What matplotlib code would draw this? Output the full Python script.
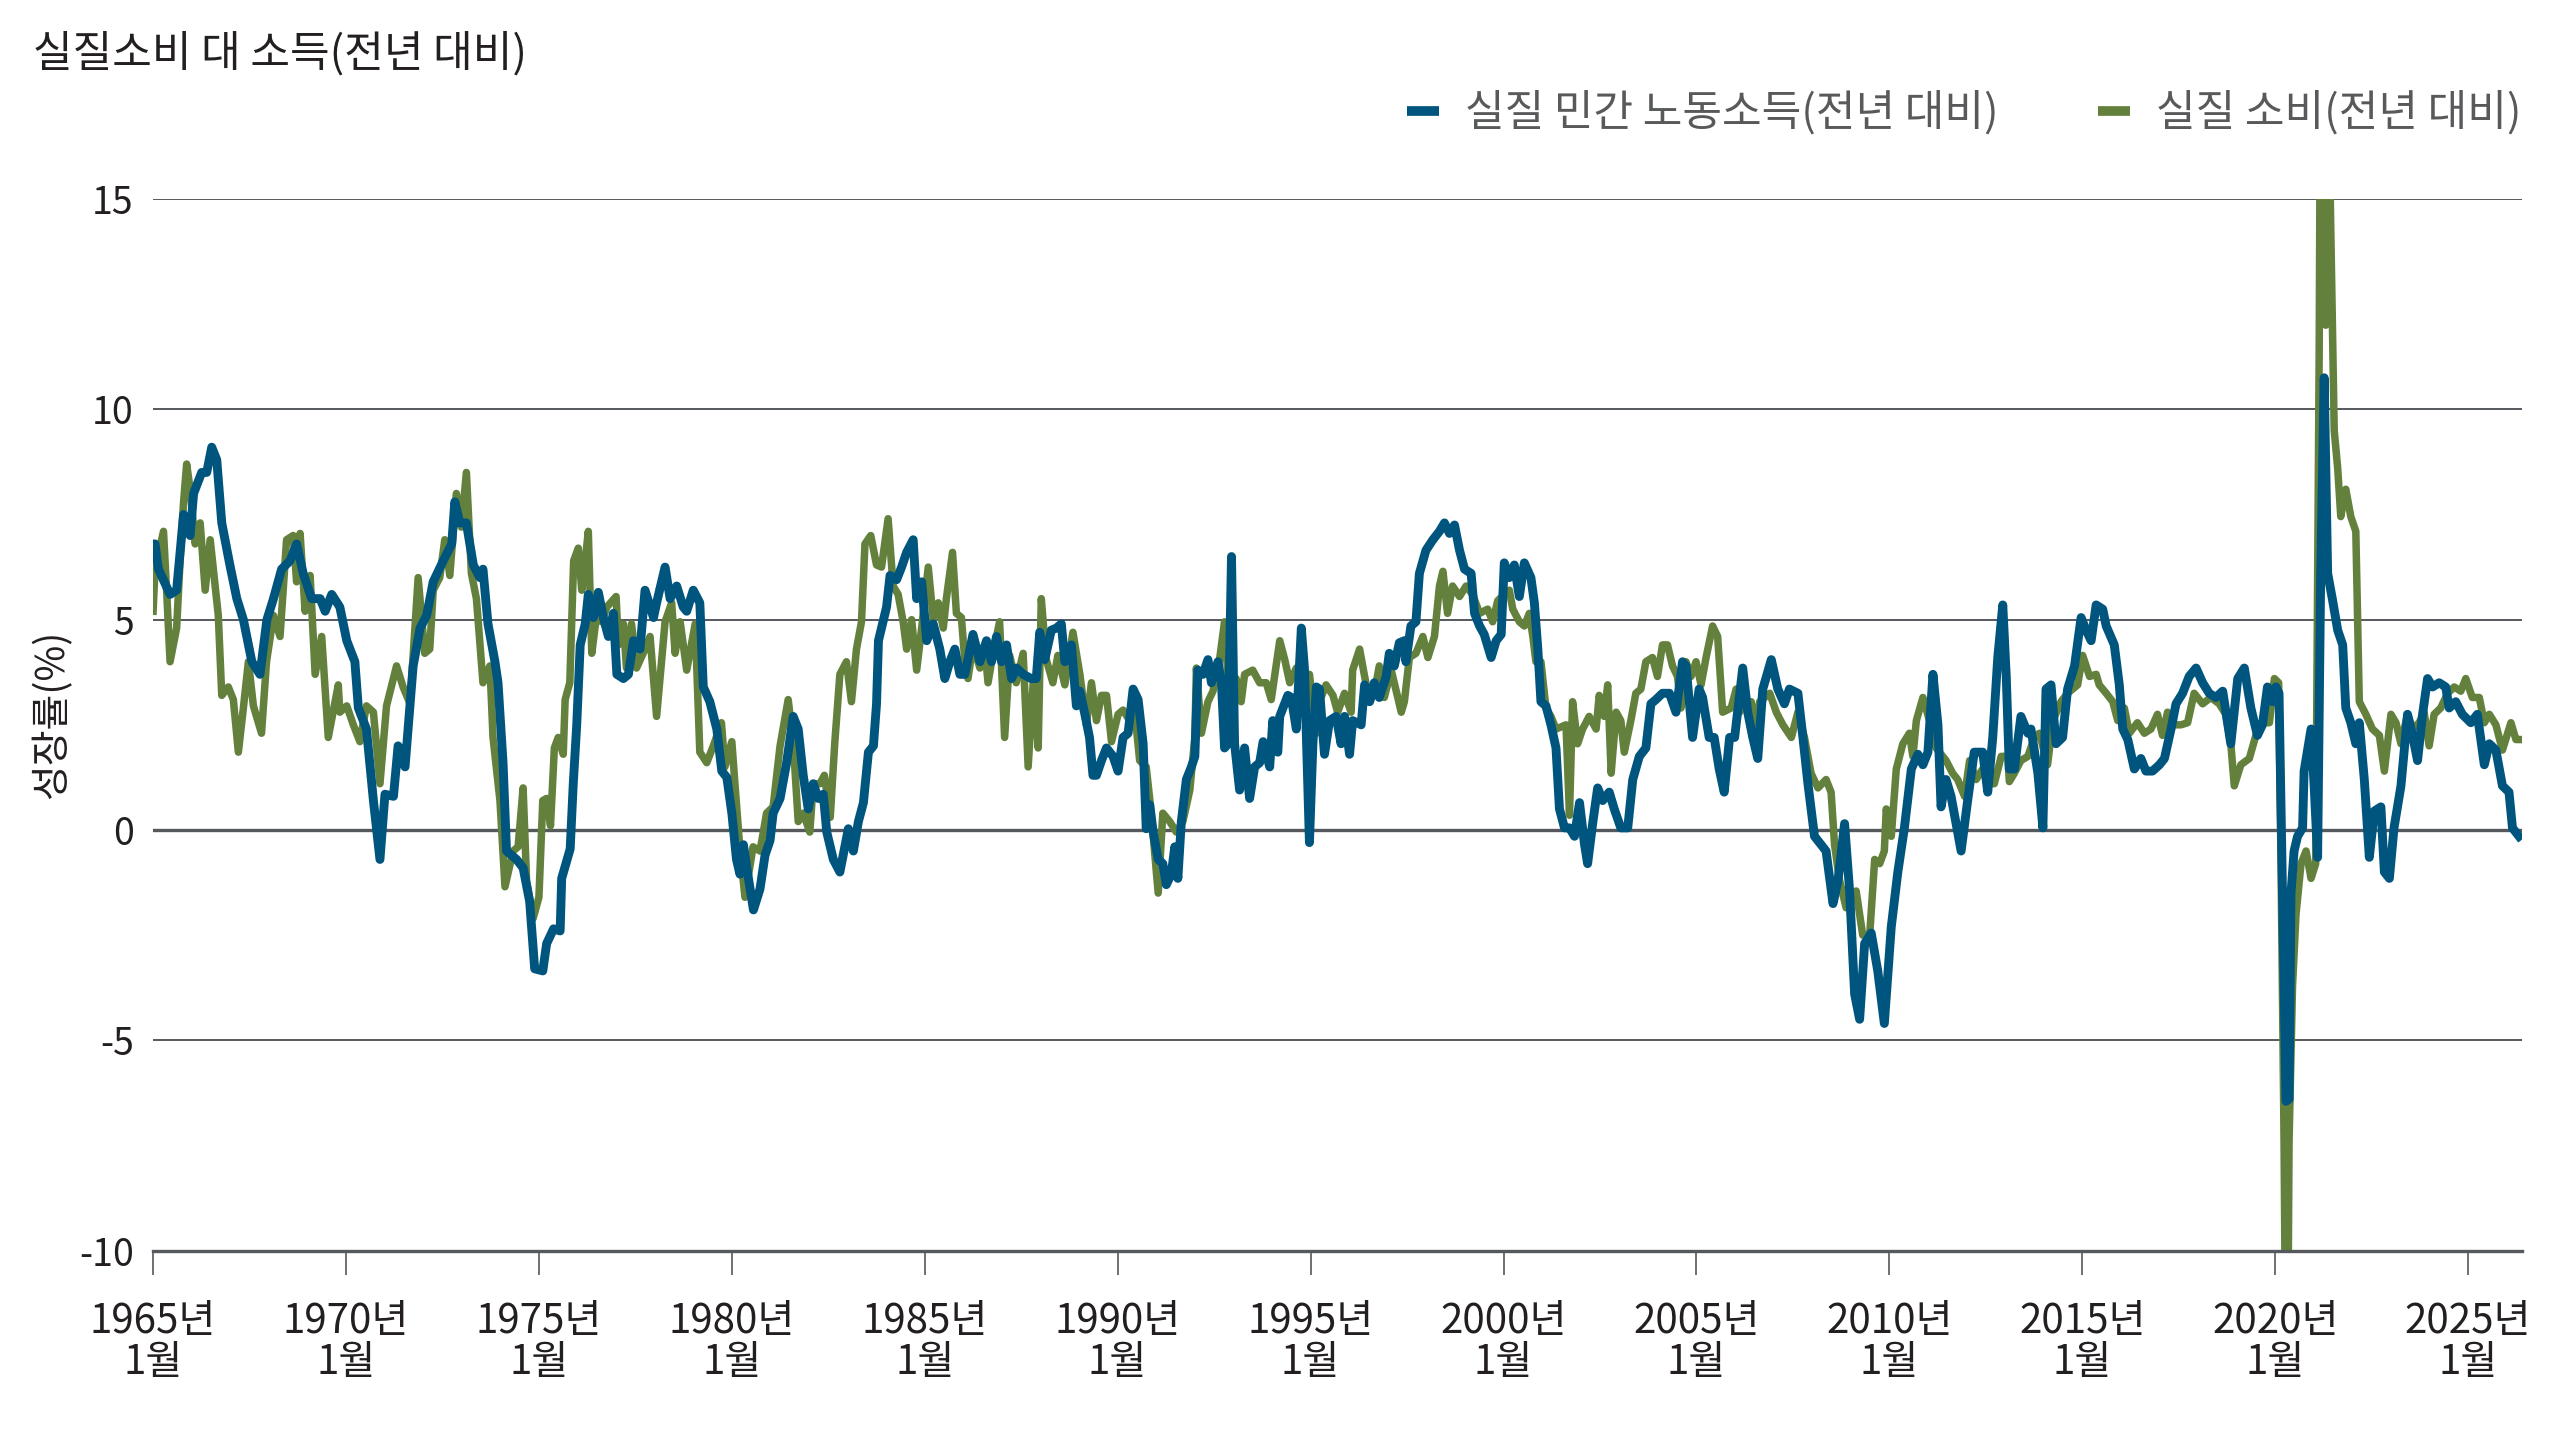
import matplotlib
matplotlib.use("Agg")
import matplotlib.pyplot as plt

plt.rcParams['font.family'] = ['Noto Sans CJK KR', 'DejaVu Sans']
plt.rcParams['font.weight'] = 'light'

# 실질 민간 노동소득(전년 대비) (decimal year, %)
inc_years = [1965.0, 1965.05, 1965.14, 1965.44, 1965.61, 1965.79, 1965.96, 1966.05, 1966.26, 1966.39,
             1966.52, 1966.65, 1966.78, 1966.99, 1967.17, 1967.34, 1967.56, 1967.77, 1967.95, 1968.12,
             1968.33, 1968.55, 1968.72, 1968.89, 1969.11, 1969.33, 1969.46, 1969.63, 1969.84, 1970.02,
             1970.23, 1970.32, 1970.53, 1970.71, 1970.88, 1971.01, 1971.23, 1971.35, 1971.53, 1971.74,
             1971.92, 1972.09, 1972.26, 1972.52, 1972.74, 1972.82, 1972.95, 1973.12, 1973.3, 1973.47,
             1973.55, 1973.68, 1973.86, 1973.94, 1974.07, 1974.16, 1974.42, 1974.59, 1974.76, 1974.89,
             1975.1, 1975.2, 1975.38, 1975.55, 1975.59, 1975.81, 1975.89, 1975.98, 1976.07, 1976.2,
             1976.28, 1976.41, 1976.54, 1976.67, 1976.8, 1976.93, 1977.02, 1977.19, 1977.32, 1977.45,
             1977.62, 1977.75, 1977.97, 1978.05, 1978.27, 1978.4, 1978.57, 1978.74, 1978.83, 1979.0,
             1979.17, 1979.26, 1979.43, 1979.61, 1979.74, 1979.87, 1980.0, 1980.12, 1980.21, 1980.3,
             1980.43, 1980.56, 1980.73, 1980.86, 1980.99, 1981.07, 1981.25, 1981.42, 1981.59, 1981.72,
             1981.85, 1981.98, 1982.11, 1982.24, 1982.37, 1982.46, 1982.63, 1982.8, 1983.02, 1983.15,
             1983.28, 1983.41, 1983.54, 1983.67, 1983.75, 1983.8, 1984.01, 1984.1, 1984.27, 1984.4,
             1984.53, 1984.7, 1984.79, 1984.92, 1985.05, 1985.22, 1985.39, 1985.52, 1985.65, 1985.78,
             1985.91, 1986.04, 1986.25, 1986.43, 1986.6, 1986.73, 1986.86, 1986.99, 1987.12, 1987.25,
             1987.38, 1987.55, 1987.76, 1987.89, 1987.98, 1988.11, 1988.28, 1988.41, 1988.54, 1988.63,
             1988.8, 1988.93, 1989.02, 1989.15, 1989.27, 1989.36, 1989.45, 1989.58, 1989.71, 1989.88,
             1990.01, 1990.14, 1990.27, 1990.4, 1990.53, 1990.66, 1990.74, 1990.83, 1990.92, 1991.05,
             1991.17, 1991.26, 1991.39, 1991.48, 1991.56, 1991.65, 1991.78, 1991.91, 1992.0, 1992.08,
             1992.21, 1992.34, 1992.43, 1992.6, 1992.69, 1992.77, 1992.86, 1992.95, 1993.03, 1993.16,
             1993.29, 1993.42, 1993.55, 1993.68, 1993.77, 1993.94, 1994.02, 1994.15, 1994.2, 1994.41,
             1994.5, 1994.63, 1994.76, 1994.84, 1994.97, 1995.06, 1995.15, 1995.23, 1995.36, 1995.49,
             1995.66, 1995.79, 1995.88, 1996.01, 1996.09, 1996.31, 1996.4, 1996.53, 1996.65, 1996.78,
             1996.96, 1997.04, 1997.17, 1997.3, 1997.43, 1997.47, 1997.6, 1997.73, 1997.82, 1997.99,
             1998.17, 1998.34, 1998.47, 1998.6, 1998.73, 1998.86, 1998.99, 1999.16, 1999.25, 1999.38,
             1999.5, 1999.68, 1999.81, 1999.94, 2000.02, 2000.15, 2000.28, 2000.41, 2000.54, 2000.71,
             2000.8, 2000.89, 2000.97, 2001.1, 2001.23, 2001.36, 2001.45, 2001.58, 2001.71, 2001.84,
             2001.97, 2002.1, 2002.18, 2002.31, 2002.44, 2002.57, 2002.74, 2002.87, 2003.04, 2003.22,
             2003.35, 2003.52, 2003.69, 2003.82, 2003.95, 2004.12, 2004.3, 2004.47, 2004.64, 2004.73,
             2004.9, 2005.07, 2005.16, 2005.33, 2005.46, 2005.59, 2005.72, 2005.86, 2005.99, 2006.2,
             2006.33, 2006.46, 2006.59, 2006.72, 2006.94, 2007.11, 2007.28, 2007.41, 2007.63, 2007.76,
             2007.89, 2008.06, 2008.23, 2008.36, 2008.54, 2008.67, 2008.84, 2008.97, 2009.1, 2009.23,
             2009.36, 2009.53, 2009.7, 2009.87, 2010.05, 2010.22, 2010.39, 2010.57, 2010.74, 2010.87,
             2011.0, 2011.13, 2011.26, 2011.34, 2011.47, 2011.6, 2011.73, 2011.86, 2012.03, 2012.2,
             2012.42, 2012.55, 2012.68, 2012.81, 2012.94, 2013.03, 2013.11, 2013.24, 2013.41, 2013.59,
             2013.67, 2013.85, 2013.98, 2014.06, 2014.19, 2014.32, 2014.49, 2014.62, 2014.8, 2014.97,
             2015.1, 2015.23, 2015.36, 2015.53, 2015.62, 2015.83, 2015.96, 2016.05, 2016.18, 2016.35,
             2016.52, 2016.65, 2016.82, 2017.0, 2017.13, 2017.3, 2017.43, 2017.6, 2017.77, 2017.95,
             2018.12, 2018.29, 2018.46, 2018.64, 2018.85, 2019.03, 2019.2, 2019.37, 2019.54, 2019.67,
             2019.8, 2019.93, 2020.02, 2020.1, 2020.19, 2020.28, 2020.36, 2020.41, 2020.49, 2020.58,
             2020.71, 2020.75, 2020.93, 2021.01, 2021.1, 2021.18, 2021.27, 2021.36, 2021.49, 2021.62,
             2021.75, 2021.83, 2021.96, 2022.09, 2022.18, 2022.31, 2022.44, 2022.57, 2022.74, 2022.83,
             2022.96, 2023.08, 2023.26, 2023.43, 2023.56, 2023.69, 2023.82, 2023.95, 2024.08, 2024.25,
             2024.42, 2024.51, 2024.68, 2024.85, 2025.07, 2025.24, 2025.42, 2025.55, 2025.72, 2025.89,
             2026.06, 2026.15, 2026.32]
inc_vals = [6.8, 6.8, 6.2, 5.6, 5.7, 7.5, 7.0, 8.0, 8.5, 8.5,
            9.1, 8.8, 7.3, 6.3, 5.5, 5.0, 4.0, 3.7, 5.0, 5.5,
            6.2, 6.4, 6.8, 6.1, 5.5, 5.5, 5.2, 5.6, 5.3, 4.5,
            4.0, 2.9, 2.4, 0.7, -0.7, 0.85, 0.8, 2.0, 1.5, 3.9,
            4.8, 5.1, 5.9, 6.4, 6.8, 7.8, 7.3, 7.3, 6.3, 6.0,
            6.2, 4.9, 4.0, 3.5, 1.6, -0.5, -0.7, -0.9, -1.7, -3.3,
            -3.35, -2.7, -2.35, -2.4, -1.15, -0.45, 1.1, 2.5, 4.4, 4.9,
            5.6, 5.05, 5.65, 5.05, 4.6, 5.15, 3.7, 3.6, 3.7, 4.5,
            4.3, 5.7, 5.05, 5.4, 6.25, 5.5, 5.8, 5.3, 5.2, 5.7,
            5.4, 3.4, 3.05, 2.4, 1.4, 1.25, 0.4, -0.7, -1.05, -0.35,
            -1.15, -1.9, -1.4, -0.6, -0.25, 0.4, 0.75, 1.6, 2.7, 2.4,
            1.3, 0.5, 1.1, 0.75, 0.85, -0.05, -0.7, -1.0, 0.03, -0.5,
            0.2, 0.65, 1.85, 2.0, 3.0, 4.5, 5.3, 6.05, 5.95, 6.25,
            6.6, 6.9, 5.5, 5.9, 4.5, 4.9, 4.3, 3.6, 4.0, 4.3,
            3.7, 3.7, 4.65, 4.0, 4.5, 4.0, 4.6, 4.0, 4.4, 3.6,
            3.85, 3.7, 3.6, 3.6, 4.7, 4.05, 4.75, 4.8, 4.9, 4.0,
            4.4, 2.95, 3.3, 2.75, 2.2, 1.3, 1.3, 1.65, 1.95, 1.75,
            1.4, 2.2, 2.3, 3.35, 3.1, 2.05, 0.03, 0.6, -0.05, -0.7,
            -0.8, -1.3, -1.05, -0.4, -1.15, 0.2, 1.2, 1.5, 1.75, 3.8,
            3.7, 4.05, 3.5, 4.0, 3.5, 1.95, 2.05, 6.5, 2.05, 0.95,
            1.95, 0.75, 1.5, 1.6, 2.1, 1.5, 2.6, 1.85, 2.7, 3.2,
            3.15, 2.4, 4.8, 3.85, -0.3, 2.05, 3.4, 3.35, 1.8, 2.6,
            2.7, 2.05, 2.7, 1.8, 2.6, 2.5, 3.45, 3.05, 3.5, 3.15,
            3.65, 4.2, 3.9, 4.45, 4.5, 4.0, 4.85, 4.95, 6.1, 6.65,
            6.9, 7.1, 7.3, 7.05, 7.25, 6.65, 6.2, 6.1, 5.15, 4.85,
            4.65, 4.1, 4.5, 4.65, 6.35, 6.0, 6.3, 5.55, 6.35, 6.0,
            5.4, 4.3, 3.05, 2.95, 2.5, 1.95, 0.5, 0.05, 0.05, -0.15,
            0.65, -0.35, -0.8, 0.15, 1.0, 0.7, 0.9, 0.5, 0.05, 0.05,
            1.2, 1.75, 1.95, 3.0, 3.1, 3.25, 3.25, 2.8, 4.0, 3.9,
            2.2, 3.35, 3.15, 2.2, 2.2, 1.45, 0.9, 2.2, 2.2, 3.85,
            2.8, 2.2, 1.7, 3.35, 4.05, 3.35, 3.0, 3.35, 3.25, 2.2,
            1.1, -0.15, -0.35, -0.5, -1.75, -1.2, 0.15, -1.45, -3.9, -4.5,
            -2.7, -2.45, -3.35, -4.6, -2.3, -1.0, 0.05, 1.45, 1.8, 1.55,
            1.85, 3.7, 2.5, 0.55, 1.2, 0.8, 0.15, -0.5, 0.7, 1.85,
            1.85, 0.9, 2.2, 4.1, 5.35, 3.65, 1.45, 1.45, 2.7, 2.3,
            2.4, 1.35, 0.05, 3.35, 3.45, 2.05, 2.2, 3.35, 3.9, 5.05,
            4.75, 4.5, 5.35, 5.25, 4.85, 4.4, 3.45, 2.4, 2.15, 1.45,
            1.7, 1.4, 1.4, 1.55, 1.7, 2.4, 3.0, 3.25, 3.65, 3.85,
            3.5, 3.25, 3.15, 3.3, 2.05, 3.6, 3.85, 2.9, 2.25, 2.5,
            3.4, 3.05, 3.4, 3.25, -1.5, -6.45, -6.4, -1.5, -0.5, -0.15,
            0.05, 1.4, 2.4, 1.05, -0.65, 6.1, 10.75, 6.1, 5.45, 4.75,
            4.4, 2.9, 2.55, 2.05, 2.55, 1.2, -0.65, 0.45, 0.55, -1.0,
            -1.15, 0.05, 1.05, 2.75, 2.25, 1.65, 2.75, 3.6, 3.4, 3.5,
            3.4, 2.9, 3.05, 2.75, 2.55, 2.75, 1.55, 2.05, 1.9, 1.05,
            0.9, 0.05, -0.15]

# 실질 소비(전년 대비)
con_years = [1965.0, 1965.05, 1965.27, 1965.35, 1965.44, 1965.61, 1965.7, 1965.79, 1965.87, 1965.96,
             1966.09, 1966.22, 1966.35, 1966.48, 1966.69, 1966.78, 1966.95, 1967.08, 1967.21, 1967.34,
             1967.47, 1967.6, 1967.81, 1967.94, 1968.12, 1968.29, 1968.46, 1968.63, 1968.72, 1968.81,
             1968.94, 1969.07, 1969.2, 1969.37, 1969.54, 1969.8, 1969.84, 1970.02, 1970.19, 1970.36,
             1970.53, 1970.71, 1970.88, 1971.05, 1971.31, 1971.48, 1971.66, 1971.87, 1972.04, 1972.17,
             1972.26, 1972.43, 1972.56, 1972.69, 1972.86, 1972.99, 1973.12, 1973.25, 1973.38, 1973.55,
             1973.73, 1973.81, 1973.99, 1974.12, 1974.33, 1974.46, 1974.59, 1974.68, 1974.85, 1975.0,
             1975.1, 1975.2, 1975.3, 1975.4, 1975.5, 1975.63, 1975.68, 1975.8, 1975.9, 1976.02,
             1976.11, 1976.2, 1976.28, 1976.37, 1976.5, 1976.63, 1976.76, 1977.0, 1977.06, 1977.19,
             1977.27, 1977.4, 1977.53, 1977.75, 1977.88, 1978.05, 1978.27, 1978.44, 1978.53, 1978.66,
             1978.83, 1979.05, 1979.17, 1979.35, 1979.52, 1979.73, 1979.82, 1980.0, 1980.08, 1980.2,
             1980.34, 1980.55, 1980.73, 1980.9, 1981.07, 1981.25, 1981.46, 1981.59, 1981.72, 1981.85,
             1982.02, 1982.11, 1982.28, 1982.4, 1982.55, 1982.67, 1982.8, 1982.97, 1983.1, 1983.23,
             1983.36, 1983.45, 1983.6, 1983.75, 1983.88, 1984.05, 1984.18, 1984.31, 1984.44, 1984.53,
             1984.66, 1984.79, 1984.92, 1985.09, 1985.22, 1985.35, 1985.48, 1985.56, 1985.72, 1985.82,
             1985.95, 1986.04, 1986.12, 1986.25, 1986.43, 1986.55, 1986.64, 1986.77, 1986.94, 1987.07,
             1987.2, 1987.37, 1987.55, 1987.68, 1987.81, 1987.94, 1988.02, 1988.15, 1988.32, 1988.45,
             1988.63, 1988.84, 1989.02, 1989.19, 1989.32, 1989.45, 1989.58, 1989.71, 1989.84, 1990.01,
             1990.14, 1990.31, 1990.44, 1990.57, 1990.74, 1990.87, 1991.05, 1991.17, 1991.35, 1991.52,
             1991.69, 1991.87, 1992.0, 1992.04, 1992.17, 1992.34, 1992.47, 1992.64, 1992.77, 1992.9,
             1993.07, 1993.2, 1993.29, 1993.5, 1993.68, 1993.85, 1993.98, 1994.2, 1994.33, 1994.46,
             1994.63, 1994.8, 1994.97, 1995.15, 1995.23, 1995.4, 1995.58, 1995.7, 1995.88, 1996.05,
             1996.09, 1996.27, 1996.4, 1996.53, 1996.65, 1996.78, 1996.91, 1997.09, 1997.35, 1997.43,
             1997.56, 1997.73, 1997.91, 1998.04, 1998.21, 1998.34, 1998.43, 1998.55, 1998.68, 1998.86,
             1999.03, 1999.2, 1999.38, 1999.59, 1999.72, 1999.85, 2000.02, 2000.15, 2000.24, 2000.41,
             2000.54, 2000.67, 2000.76, 2000.84, 2000.97, 2001.1, 2001.23, 2001.36, 2001.49, 2001.62,
             2001.71, 2001.79, 2001.92, 2002.05, 2002.22, 2002.4, 2002.48, 2002.61, 2002.7, 2002.79,
             2002.92, 2003.04, 2003.13, 2003.3, 2003.43, 2003.56, 2003.69, 2003.86, 2003.99, 2004.12,
             2004.25, 2004.38, 2004.51, 2004.6, 2004.73, 2004.86, 2004.99, 2005.12, 2005.25, 2005.42,
             2005.55, 2005.68, 2005.9, 2006.03, 2006.12, 2006.25, 2006.42, 2006.46, 2006.64, 2006.9,
             2007.07, 2007.24, 2007.46, 2007.63, 2007.8, 2007.97, 2008.15, 2008.36, 2008.49, 2008.58,
             2008.71, 2008.88, 2009.14, 2009.31, 2009.49, 2009.62, 2009.75, 2009.87, 2009.92, 2010.05,
             2010.18, 2010.35, 2010.52, 2010.61, 2010.7, 2010.87, 2011.04, 2011.21, 2011.47, 2011.64,
             2011.77, 2011.95, 2012.08, 2012.25, 2012.42, 2012.55, 2012.72, 2012.9, 2013.07, 2013.11,
             2013.24, 2013.41, 2013.59, 2013.76, 2013.89, 2014.1, 2014.24, 2014.45, 2014.62, 2014.75,
             2014.88, 2015.01, 2015.19, 2015.36, 2015.44, 2015.62, 2015.79, 2015.92, 2016.09, 2016.22,
             2016.43, 2016.61, 2016.78, 2016.95, 2017.08, 2017.21, 2017.38, 2017.56, 2017.73, 2017.9,
             2018.12, 2018.33, 2018.55, 2018.72, 2018.85, 2018.94, 2019.11, 2019.33, 2019.5, 2019.67,
             2019.85, 2019.98, 2020.09, 2020.15, 2020.23, 2020.3, 2020.36, 2020.45, 2020.54, 2020.67,
             2020.8, 2020.93, 2021.05, 2021.14, 2021.21, 2021.31, 2021.4, 2021.53, 2021.62, 2021.7,
             2021.83, 2021.96, 2022.09, 2022.18, 2022.35, 2022.52, 2022.7, 2022.83, 2023.0, 2023.13,
             2023.26, 2023.43, 2023.56, 2023.73, 2023.86, 2023.99, 2024.12, 2024.29, 2024.47, 2024.64,
             2024.81, 2024.94, 2025.11, 2025.29, 2025.42, 2025.55, 2025.72, 2025.89, 2026.11, 2026.24,
             2026.32]
con_vals = [5.2, 6.2, 7.1, 5.7, 4.0, 4.8, 6.4, 7.8, 8.7, 8.1,
            6.8, 7.3, 5.7, 6.9, 5.1, 3.2, 3.4, 3.1, 1.85, 2.9,
            4.0, 2.95, 2.3, 4.0, 5.1, 4.6, 6.9, 7.0, 5.9, 7.05,
            5.2, 6.05, 3.7, 4.6, 2.2, 3.45, 2.8, 2.95, 2.5, 2.1,
            2.95, 2.8, 1.1, 2.95, 3.9, 3.4, 3.0, 6.0, 4.2, 4.3,
            5.7, 6.0, 6.9, 6.05, 8.0, 7.2, 8.5, 6.1, 5.5, 3.5,
            3.9, 2.2, 0.7, -1.35, -0.5, -0.4, 1.0, -1.2, -2.1, -1.6,
            0.7, 0.75, 0.1, 1.95, 2.2, 1.8, 3.1, 3.5, 6.4, 6.7,
            5.7, 6.4, 7.1, 4.2, 5.15, 4.95, 5.3, 5.55, 4.4, 4.9,
            3.85, 4.9, 3.85, 4.3, 4.6, 2.7, 4.95, 5.4, 4.2, 4.95,
            3.8, 4.9, 1.85, 1.6, 2.0, 2.55, 1.5, 2.1, 1.1, -0.35,
            -1.6, -0.4, -0.5, 0.4, 0.55, 2.0, 3.1, 2.1, 0.2, 0.4,
            -0.05, 1.1, 1.1, 1.3, 0.3, 2.1, 3.7, 4.0, 3.05, 4.3,
            4.95, 6.8, 7.0, 6.3, 6.25, 7.4, 5.8, 5.6, 4.95, 4.3,
            5.0, 3.8, 4.8, 6.25, 5.0, 5.4, 4.8, 5.5, 6.6, 5.15,
            5.05, 4.0, 3.6, 4.4, 3.85, 4.4, 3.5, 4.2, 4.95, 2.2,
            4.15, 3.5, 4.2, 1.5, 3.5, 1.95, 5.5, 4.05, 3.5, 4.15,
            3.45, 4.7, 3.7, 2.5, 3.5, 2.6, 3.2, 3.2, 2.1, 2.75,
            2.85, 2.6, 2.85, 1.65, 1.5, 0.4, -1.5, 0.4, 0.2, -0.05,
            0.2, 0.95, 2.2, 3.85, 2.3, 3.05, 3.3, 4.05, 4.95, 2.95,
            3.6, 3.05, 3.7, 3.8, 3.5, 3.5, 3.1, 4.5, 4.05, 3.5,
            3.85, 3.05, 3.7, 2.3, 3.05, 3.45, 3.2, 2.8, 3.25, 2.8,
            3.8, 4.3, 3.65, 3.05, 3.25, 3.9, 3.15, 3.8, 2.8, 3.05,
            4.1, 4.2, 4.6, 4.1, 4.6, 5.8, 6.15, 5.15, 5.8, 5.55,
            5.8, 5.6, 5.15, 5.25, 4.95, 5.45, 5.6, 5.7, 5.25, 4.95,
            4.85, 5.15, 4.6, 4.0, 4.0, 2.9, 2.7, 2.4, 2.45, 2.5,
            0.35, 3.05, 2.05, 2.4, 2.7, 2.4, 3.2, 2.7, 3.45, 1.35,
            2.8, 2.6, 1.85, 2.6, 3.25, 3.35, 4.0, 4.1, 3.65, 4.4,
            4.4, 3.9, 3.65, 2.9, 4.0, 3.65, 4.0, 3.45, 4.1, 4.85,
            4.6, 2.8, 2.9, 3.35, 2.8, 3.05, 3.05, 2.4, 3.05, 3.25,
            2.8, 2.5, 2.2, 2.8, 2.2, 1.35, 1.0, 1.2, 0.9, -0.35,
            -1.2, -1.85, -1.45, -2.5, -2.5, -0.7, -0.8, -0.5, 0.5, -0.15,
            1.45, 2.05, 2.3, 1.75, 2.6, 3.15, 2.6, 1.95, 1.65, 1.35,
            1.2, 0.8, 1.65, 1.2, 1.45, 1.1, 1.1, 1.75, 1.75, 1.15,
            1.35, 1.65, 1.75, 2.2, 2.3, 1.55, 2.6, 3.05, 3.25, 3.35,
            3.45, 4.15, 3.65, 3.7, 3.45, 3.25, 3.05, 2.6, 2.9, 2.3,
            2.55, 2.3, 2.4, 2.75, 2.25, 2.8, 2.5, 2.5, 2.55, 3.25,
            3.0, 3.15, 3.0, 2.75, 2.05, 1.05, 1.55, 1.7, 2.25, 2.55,
            2.55, 3.6, 3.5, -0.65, -7.4, -16.0, -7.4, -3.7, -2.0, -0.8,
            -0.5, -1.15, -0.8, 11.3, 26.0, 12.0, 16.5, 9.5, 8.6, 7.45,
            8.1, 7.45, 7.1, 3.05, 2.75, 2.4, 2.25, 1.4, 2.75, 2.55,
            2.05, 2.75, 2.4, 2.55, 2.8, 2.0, 2.75, 2.9, 3.25, 3.4,
            3.3, 3.6, 3.15, 3.15, 2.55, 2.75, 2.5, 1.9, 2.55, 2.15,
            2.15]

x_ticks = list(range(1965, 2026, 5))
x_labels = [f"{y}년\n1월" for y in x_ticks]
y_ticks = [-10, -5, 0, 5, 10, 15]

blue = '#00557f'
green = '#63813d'
grid_c = '#55585d'
txt_c = '#231f20'

fig = plt.figure(figsize=(25.6, 14.4), dpi=100)
ax = fig.add_axes([0.0598, 0.1315, 0.9254, 0.7303])

for y in [-5, 5, 10, 15]:
    ax.axhline(y, color=grid_c, lw=1.4, zorder=1)
ax.axhline(0, color=grid_c, lw=2.4, zorder=1)

ax.plot(con_years, con_vals, color=green, lw=5.4, zorder=2, solid_joinstyle='round',
        label='실질 소비(전년 대비)')
ax.plot(inc_years, inc_vals, color=blue, lw=6.4, zorder=3, solid_joinstyle='round',
        label='실질 민간 노동소득(전년 대비)')

ax.set_xlim(1965, 2026.4)
ax.set_ylim(-10, 15)
ax.set_yticks(y_ticks)
ax.set_yticklabels([str(v) for v in y_ticks])
ax.set_xticks(x_ticks)
ax.set_xticklabels(x_labels, linespacing=1.0)

for s in ['left', 'right', 'top']:
    ax.spines[s].set_visible(False)
ax.spines['bottom'].set_color(grid_c)
ax.spines['bottom'].set_linewidth(2.4)
ax.tick_params(axis='y', length=0, pad=14, labelsize=27, labelcolor=txt_c)
ax.tick_params(axis='x', length=17, width=1.2, color=grid_c, pad=19, labelsize=29, labelcolor=txt_c)

ax.set_ylabel('성장률(%)', fontsize=28, color=txt_c)
ax.yaxis.set_label_coords(-0.034, 0.51)

fig.text(0.0128, 0.962, '실질소비 대 소득(전년 대비)', fontsize=31, color=txt_c,
         ha='left', va='center')

h, l = ax.get_legend_handles_labels()
leg = fig.legend(h[::-1], l[::-1], loc='center right', bbox_to_anchor=(1.0, 0.921), ncol=2,
                 frameon=False, fontsize=31, handlelength=0.75, handletextpad=0.6,
                 columnspacing=2.3, labelcolor='#58595b')
for line in leg.get_lines():
    line.set_linewidth(7)
    line.set_solid_capstyle('butt')

fig.savefig('out.png', dpi=100)
